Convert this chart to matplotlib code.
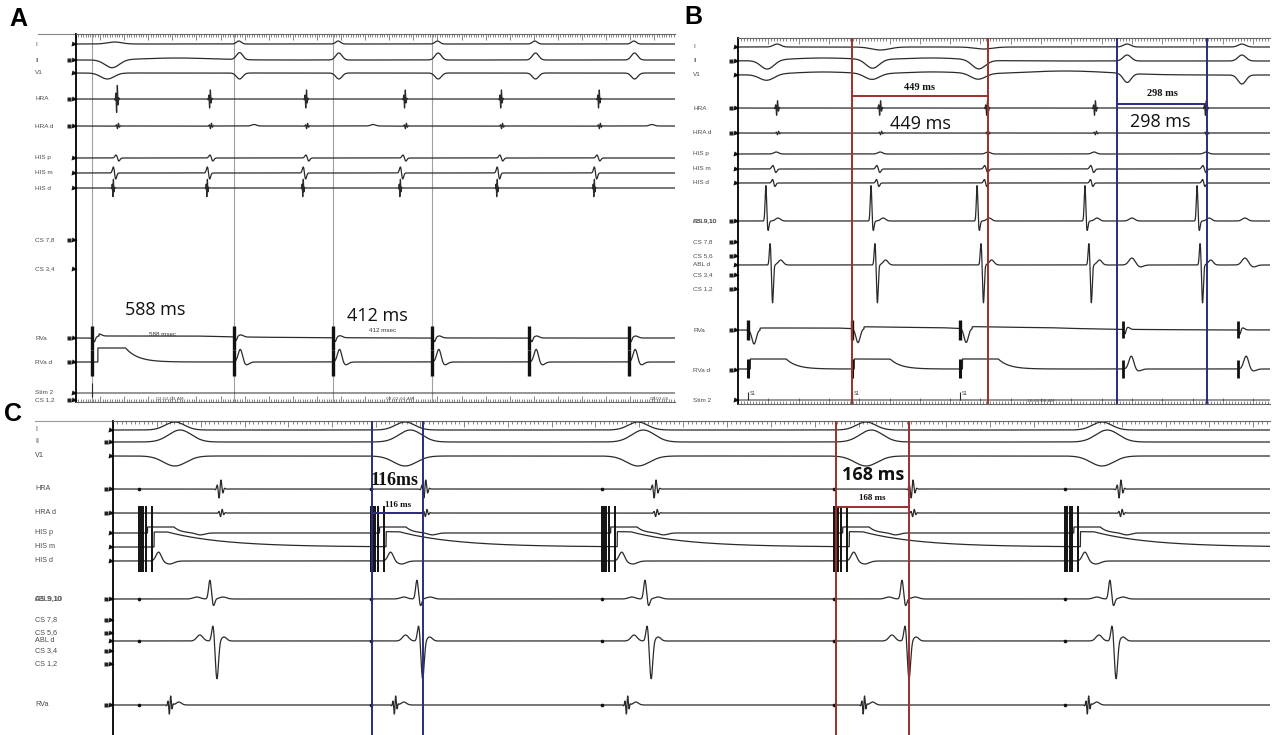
import numpy as np
import matplotlib.pyplot as plt
from matplotlib.ticker import MultipleLocator

W, H = 1278, 735
INK = "#2a2a2a"
LABEL_INK = "#4a4a4a"
RED = "#9b3030"
BLUE = "#2c2c7c"
GRAY = "#a0a0a0"

# ---------------- panel A (times in ms) ----------------
A_LABELS = ["I", "II", "V1", "HRA", "HRA d", "HIS p", "HIS m", "HIS d",
            "CS 7,8", "CS 3,4", "RVa", "RVa d", "Stim 2", "CS 1,2"]
A_BOXED = ["II", "HRA", "HRA d", "CS 7,8", "RVa", "RVa d", "CS 1,2"]
A_STIM = [66, 654, 1066, 1478, 1882, 2293]
A_HRA = [170, 556, 955, 1365, 1764, 2170]
A_HIS = [154, 544, 942, 1345, 1747, 2150]
A_HRAD_EXTRA = [739, 1233, 2390]
A_MARKED = [66, 654, 1066, 1478]
A_INTERVALS = [588, 412]

# ---------------- panel B ----------------
B_LABELS = ["I", "II", "V1", "HRA", "HRA d", "HIS p", "HIS m", "HIS d",
            "ABL9,10", "CS 7,8", "CS 5,6", "ABL d", "CS 3,4", "CS 1,2",
            "RVa", "RVa d", "Stim 2"]
B_BOXED = ["II", "HRA", "HRA d", "ABL9,10", "CS 7,8", "CS 5,6", "CS 3,4",
           "CS 1,2", "RVa", "RVa d"]
B_PACE = [33, 376, 733]
B_RV = [1271, 1650]
B_HRA = [129, 469, 822, 1178, 1544]
B_HIS = [116, 459, 815, 1165, 1535]
B_ABL = [92, 439, 789, 1145, 1515]
B_ABLD = [106, 452, 802, 1158, 1525]
B_FAR = [1300, 1673]
B_RED = [376, 825]
B_BLUE = [1251, 1549]

# ---------------- panel C ----------------
C_LABELS = ["I", "II", "V1", "HRA", "HRA d", "HIS p", "HIS m", "HIS d",
            "ABL9,10", "CS 7,8", "CS 5,6", "ABL d", "CS 3,4", "CS 1,2", "RVa"]
C_BOXED = ["II", "HRA", "HRA d", "ABL9,10", "CS 7,8", "CS 5,6", "CS 3,4",
           "CS 1,2", "RVa"]
C_PACE = [59, 588, 1115, 1644, 2171]
C_SURF = [141, 666, 1197, 1717, 2255]
C_HRA = [244, 711, 1236, 1822, 2296]
C_ABL = [221, 693, 1213, 1799, 2273]
C_ABLD = [228, 697, 1218, 1806, 2278]
C_RV = [130, 643, 1172, 1712, 2223]
C_BLUE = [591, 707]
C_RED = [1648, 1816]


def gauss(t, t0, w):
    return np.exp(-0.5 * ((t - t0) / w) ** 2)


def biph(t, t0, w):
    x = (t - t0) / w
    return -x * np.exp(0.5 - 0.5 * x * x)


def burst(t, t0, w):
    x = (t - t0) / w
    return np.sin(1.5 * np.pi * x) * np.exp(-x * x)


def hold(t, t0, dur, tau):
    on = ((t >= t0) & (t < t0 + dur)).astype(float)
    after = np.where(t >= t0 + dur, np.exp(-np.clip(t - t0 - dur, 0, None) / tau), 0.0)
    return on + after


def make_panel(fig, box, scale):
    # box in picture pixels: left, top, right, bottom; x in ms, y in pixel rows
    l, t, r, b = box
    ax = fig.add_axes([l / W, 1 - b / H, (r - l) / W, (b - t) / H])
    ax.set_xlim(0, (r - l) * scale)
    ax.set_ylim(b, t)
    ax.set_facecolor("none")
    ax.xaxis.set_major_locator(MultipleLocator(100))
    ax.xaxis.set_minor_locator(MultipleLocator(10))
    ax.set_yticks([])
    ax.tick_params(axis="x", which="both", top=True, direction="in",
                   labelbottom=False, labeltop=False, color="#555555", width=0.5)
    ax.tick_params(axis="x", which="major", length=4)
    ax.tick_params(axis="x", which="minor", length=2)
    ax.spines["right"].set_visible(False)
    ax.spines["left"].set_linewidth(1.3)
    ax.spines["top"].set_color("#666666")
    ax.spines["bottom"].set_color("#666666")
    return ax


def channel_labels(ax, labels, rows, boxed, left, scale, label_px, size=4.6):
    x_lab = (label_px - left) * scale
    for lab, y in zip(labels, rows):
        ax.text(x_lab, y, lab, fontsize=size, color=LABEL_INK, va="center",
                ha="left", family="Liberation Sans", clip_on=False)
        ax.plot([-2.5 * scale], [y], marker=">", ms=3.6, color="#111111",
                clip_on=False, mec="none")
        if lab in boxed:
            ax.plot([-7 * scale], [y], marker="s", ms=3.2, color="#222222",
                    clip_on=False, mec="none")


def draw(ax, t, row, sig, lw=0.9):
    ax.plot(t, row - sig, color=INK, lw=lw, solid_joinstyle="round")


fig = plt.figure(figsize=(W / 100, H / 100), dpi=100)
fig.patch.set_facecolor("white")

# ======================= A =======================
A_BOX = (76, 34, 675, 402)
A_SCALE = 4.15
A_ROWS = [44, 60, 73, 99, 126, 158, 173, 188, 240, 269, 338, 362, 393, 400]
axA = make_panel(fig, A_BOX, A_SCALE)
tA = np.arange(0, (A_BOX[2] - A_BOX[0]) * A_SCALE, 0.5)
rA = dict(zip(A_LABELS, A_ROWS))

for s in A_MARKED:
    axA.axvline(s, color=GRAY, lw=0.8, zorder=0)

sig = 2 * gauss(tA, 160, 30)
for s in A_STIM[1:]:
    sig += 3 * gauss(tA, s + 22, 10)
draw(axA, tA, rA["I"], sig)

sig = -8 * gauss(tA, 150, 30) + 2 * gauss(tA, 420, 140)
for s in A_STIM[1:]:
    sig += 7 * gauss(tA, s + 25, 13)
draw(axA, tA, rA["II"], sig)

sig = -6 * gauss(tA, 130, 28)
for s in A_STIM[1:]:
    sig -= 6 * gauss(tA, s + 25, 13)
draw(axA, tA, rA["V1"], sig)

sig = np.zeros_like(tA)
for i, a in enumerate(A_HRA):
    sig += (15 if i == 0 else 10) * burst(tA, a, 5)
draw(axA, tA, rA["HRA"], sig)

sig = np.zeros_like(tA)
for a in A_HRA:
    sig += 3 * burst(tA, a + 4, 7)
for a in A_HRAD_EXTRA:
    sig += 1.5 * gauss(tA, a, 10)
draw(axA, tA, rA["HRA d"], sig)

sig = np.zeros_like(tA)
for h in A_HIS:
    sig += 3 * biph(tA, h + 18, 6)
draw(axA, tA, rA["HIS p"], sig)

sig = np.zeros_like(tA)
for h in A_HIS:
    sig += 6 * biph(tA, h + 6, 5)
draw(axA, tA, rA["HIS m"], sig)

sig = np.zeros_like(tA)
for h in A_HIS:
    sig += 10 * burst(tA, h, 4)
draw(axA, tA, rA["HIS d"], sig)

sig = 2 * hold(tA, A_STIM[0] + 30, 400, 300)
for s in A_STIM:
    sig += -4 * gauss(tA, s + 10, 4) + 2 * gauss(tA, s + 30, 10)
draw(axA, tA, rA["RVa"], sig)
axA.vlines(A_STIM, rA["RVa"] - 12, rA["RVa"] + 12, color="#111111", lw=2.4)

sig = 14 * hold(tA, A_STIM[0] + 25, 115, 50)
for s in A_STIM[1:]:
    sig += 13 * gauss(tA, s + 28, 9) - 3 * gauss(tA, s + 52, 12)
draw(axA, tA, rA["RVa d"], sig)
axA.vlines(A_STIM, rA["RVa d"] - 12, rA["RVa d"] + 14, color="#111111", lw=2.4)

draw(axA, tA, rA["Stim 2"], np.zeros_like(tA), lw=0.7)
axA.vlines(A_STIM[0], rA["Stim 2"] - 10, rA["Stim 2"] + 4, color=INK, lw=0.8)

channel_labels(axA, A_LABELS, A_ROWS, A_BOXED, A_BOX[0], A_SCALE, 35)
axA.plot([(38 - 76) * A_SCALE, 0], [A_BOX[1]] * 2, color="#888888", lw=0.8, clip_on=False)

for (s0, s1), iv, ybig, ysmall in zip([(A_STIM[0], A_STIM[1]), (A_STIM[2], A_STIM[3])],
                                      A_INTERVALS, [310, 316], [335, 331]):
    xm = s0 + 0.45 * (s1 - s0)
    axA.text(xm, ybig, f"{iv} ms", fontsize=13, family="Open Sans", ha="center",
             va="center", color="#111111")
    axA.text(xm + 0.05 * (s1 - s0), ysmall, f"{iv} msec", fontsize=4.5,
             family="Liberation Sans", ha="center", va="center", color="#333333")

for x, s in [(170, "02:02:03 AM"), (400, "02:02:04 AM"), (660, "02:02:05")]:
    axA.text((x - 76) * A_SCALE, 398.5, s, fontsize=3.2, color="#555555",
             ha="center", va="center", clip_on=False)

# ======================= B =======================
B_BOX = (738, 38, 1270, 404)
B_SCALE = 3.3
B_ROWS = [47, 61, 75, 108, 133, 154, 169, 183, 221, 242, 256, 265, 275, 289,
          330, 370, 400]
axB = make_panel(fig, B_BOX, B_SCALE)
tB = np.arange(0, (B_BOX[2] - B_BOX[0]) * B_SCALE, 0.5)
rB = dict(zip(B_LABELS, B_ROWS))

for x in B_RED:
    axB.axvline(x, color=RED, lw=1.4, zorder=3)
for x in B_BLUE:
    axB.axvline(x, color=BLUE, lw=1.4, zorder=3)

sig = 3 * gauss(tB, 129, 12) - 3 * gauss(tB, 470, 30) - 2 * gauss(tB, 810, 30)
for r in B_RV:
    sig += 3 * gauss(tB, r + 13, 12)
draw(axB, tB, rB["I"], sig)

sig = 3 * gauss(tB, 280, 120) + 3 * gauss(tB, 640, 110)
for a in B_ABL[:3]:
    sig -= 9 * gauss(tB, a + 5, 22)
for r in B_RV:
    sig += 6 * gauss(tB, r + 13, 13)
draw(axB, tB, rB["II"], sig)

sig = 3 * gauss(tB, 280, 110) + 3 * gauss(tB, 640, 110) + 4 * gauss(tB, 1080, 150)
for a in B_ABL[:3]:
    sig -= 6 * gauss(tB, a + 3, 24)
for r in B_RV:
    sig -= 9 * gauss(tB, r + 13, 13)
draw(axB, tB, rB["V1"], sig)

sig = np.zeros_like(tB)
for a in B_HRA:
    sig += 8 * burst(tB, a, 5)
draw(axB, tB, rB["HRA"], sig)

sig = np.zeros_like(tB)
for a in B_HRA:
    sig += 2 * burst(tB, a + 3, 6)
draw(axB, tB, rB["HRA d"], sig)

sig = np.zeros_like(tB)
for h in B_HIS:
    sig += 2 * gauss(tB, h + 10, 8)
draw(axB, tB, rB["HIS p"], sig)

sig = np.zeros_like(tB)
for h in B_HIS:
    sig += 3.5 * biph(tB, h + 4, 5)
draw(axB, tB, rB["HIS m"], sig)

sig = np.zeros_like(tB)
for h in B_HIS:
    sig += 3.5 * biph(tB, h + 2, 4)
draw(axB, tB, rB["HIS d"], sig)

sig = np.zeros_like(tB)
for a in B_ABL:
    sig += 36 * gauss(tB, a, 2.5) - 10 * gauss(tB, a + 7, 3) + 3 * gauss(tB, a + 40, 8)
for f in B_FAR:
    sig += 3 * gauss(tB, f, 9)
draw(axB, tB, rB["ABL9,10"], sig)

sig = np.zeros_like(tB)
for a in B_ABLD:
    sig += 22 * gauss(tB, a, 2.6) - 38 * gauss(tB, a + 8, 2.8) + 5 * gauss(tB, a + 35, 8)
for f in B_FAR:
    sig += 7 * gauss(tB, f, 10) - 2 * gauss(tB, f + 28, 10)
draw(axB, tB, rB["ABL d"], sig)

sig = np.zeros_like(tB)
for p in B_PACE:
    sig += -14 * gauss(tB, p + 20, 7) + 2 * hold(tB, p + 40, 250, 200)
for r in B_RV:
    sig += -5 * gauss(tB, r + 6, 3) + 2 * gauss(tB, r + 16, 6)
draw(axB, tB, rB["RVa"], sig)
axB.vlines(B_PACE, rB["RVa"] - 10, rB["RVa"] + 10, color="#111111", lw=2.4)
axB.vlines(B_RV, rB["RVa"] - 9, rB["RVa"] + 8, color="#111111", lw=2.0)

sig = np.zeros_like(tB)
for p in B_PACE:
    sig += 10 * hold(tB, p + 8, 118, 35)
for r in B_RV:
    sig += 13 * gauss(tB, r + 27, 8) - 2 * gauss(tB, r + 50, 10)
draw(axB, tB, rB["RVa d"] - 1, sig)
axB.vlines(B_PACE, rB["RVa d"] - 11, rB["RVa d"] + 8, color="#111111", lw=2.2)
axB.vlines(B_RV, rB["RVa d"] - 10, rB["RVa d"] + 8, color="#111111", lw=2.0)

draw(axB, tB, rB["Stim 2"], np.zeros_like(tB), lw=0.7)
axB.vlines(B_PACE, rB["Stim 2"] - 8, rB["Stim 2"], color=INK, lw=0.8)
for p in B_PACE:
    axB.text(p + 4, rB["Stim 2"] - 5, "S1", fontsize=3.5, color="#444444")
axB.text(1000, rB["Stim 2"] + 1.5, "10:02:08 AM", fontsize=3.2, color="#555555",
         ha="center", va="center")

channel_labels(axB, B_LABELS, B_ROWS, B_BOXED, B_BOX[0], B_SCALE, 693)
axB.text((693 - 738) * B_SCALE, rB["ABL9,10"], "CS 9,10", fontsize=4.6,
         color=LABEL_INK, va="center", family="Liberation Sans", clip_on=False)

for (x0, x1), col, yl, ysmall, ybig, xbig in [(B_RED, RED, 96, 88, 124, 0.5),
                                              (B_BLUE, BLUE, 104, 94, 122, 0.48)]:
    axB.plot([x0, x1], [yl, yl], color=col, lw=1.4)
    iv = round(x1 - x0)
    axB.text((x0 + x1) / 2, ysmall, f"{iv} ms", fontsize=7.5, family="Liberation Serif",
             weight="bold", ha="center", va="center", color="#111111")
    axB.text(x0 + xbig * (x1 - x0), ybig, f"{iv} ms", fontsize=13, family="Open Sans",
             ha="center", va="center", color="#111111")

# ======================= C =======================
C_BOX = (113, 421, 1270, 735)
C_SCALE = 2.28
C_ROWS = [430, 442, 456, 489, 513, 533, 547, 561, 599, 620, 633, 641, 651, 664, 705]
axC = make_panel(fig, C_BOX, C_SCALE)
axC.spines["bottom"].set_visible(False)
axC.tick_params(axis="x", which="both", bottom=False)
tC = np.arange(0, (C_BOX[2] - C_BOX[0]) * C_SCALE, 0.5)
rC = dict(zip(C_LABELS, C_ROWS))

for x in C_BLUE:
    axC.axvline(x, color=BLUE, lw=1.4, zorder=3)
for x in C_RED:
    axC.axvline(x, color=RED, lw=1.4, zorder=3)

sig = np.zeros_like(tC)
for s in C_SURF:
    sig += 8 * gauss(tC, s, 22)
draw(axC, tC, rC["I"], sig)

sig = np.zeros_like(tC)
for s in C_SURF:
    sig += 12 * gauss(tC, s + 12, 26)
draw(axC, tC, rC["II"], sig)

sig = np.zeros_like(tC)
for s in C_SURF:
    sig -= 10 * gauss(tC, s, 26)
draw(axC, tC, rC["V1"], sig)

sig = np.zeros_like(tC)
for a in C_HRA:
    sig += 10 * burst(tC, a, 7)
draw(axC, tC, rC["HRA"], sig)

sig = np.zeros_like(tC)
for a in C_HRA:
    sig += 4 * burst(tC, a + 3, 6)
draw(axC, tC, rC["HRA d"], sig)

sig = np.zeros_like(tC)
for p in C_PACE:
    sig += 6 * hold(tC, p + 20, 60, 15) - 2 * gauss(tC, p + 140, 10)
draw(axC, tC, rC["HIS p"], sig)

sig = np.zeros_like(tC)
for p in C_PACE:
    sig += 15 * hold(tC, p + 35, 30, 130)
draw(axC, tC, rC["HIS m"], sig)

sig = np.zeros_like(tC)
for p in C_PACE:
    sig += 9 * gauss(tC, p + 45, 6) - 3 * gauss(tC, p + 70, 10)
draw(axC, tC, rC["HIS d"], sig)
for p in C_PACE:
    axC.vlines([p, p + 5, p + 10, p + 16, p + 30], 506, 572, color="#111111", lw=1.4)

sig = np.zeros_like(tC)
for a in C_ABL:
    sig += 2 * gauss(tC, a - 30, 8) + 19 * gauss(tC, a, 3) - 7 * gauss(tC, a + 8, 3) \
        + 2 * gauss(tC, a + 30, 8)
draw(axC, tC, rC["ABL9,10"], sig)

sig = np.zeros_like(tC)
for a in C_ABLD:
    sig += 6 * gauss(tC, a - 30, 7) + 16 * gauss(tC, a, 3) - 38 * gauss(tC, a + 9, 3.5) \
        + 4 * gauss(tC, a + 25, 6)
draw(axC, tC, rC["ABL d"], sig)

sig = np.zeros_like(tC)
for r in C_RV:
    sig += 10 * burst(tC, r, 5) + 3 * gauss(tC, r + 20, 6)
draw(axC, tC, rC["RVa"], sig)

for lab in ["HRA", "ABL9,10", "ABL d", "RVa"]:
    axC.plot(C_PACE, [rC[lab]] * len(C_PACE), ls="none", marker="o", ms=1.6,
             color="#111111")

channel_labels(axC, C_LABELS, C_ROWS, C_BOXED, C_BOX[0], C_SCALE, 35, size=5.2)
axC.text((35 - 113) * C_SCALE, rC["ABL9,10"], "CS 9,10", fontsize=5.2,
         color=LABEL_INK, va="center", family="Liberation Sans", clip_on=False)
axC.plot([(35 - 113) * C_SCALE, 0], [C_BOX[1]] * 2, color="#999999", lw=0.8, clip_on=False)

axC.plot(C_BLUE, [513, 513], color=BLUE, lw=1.4)
axC.plot(C_RED, [507, 507], color=RED, lw=1.4)
iv_blue = round(C_BLUE[1] - C_BLUE[0])
iv_red = round(C_RED[1] - C_RED[0])
axC.text(sum(C_BLUE) / 2, 505, f"{iv_blue} ms", fontsize=6.5, family="Liberation Serif",
         weight="bold", ha="center", va="center", color="#111111")
axC.text(sum(C_BLUE) / 2 - 8, 481, f"{iv_blue}ms", fontsize=13, family="Liberation Serif",
         weight="bold", ha="center", va="center", color="#111111")
axC.text(sum(C_RED) / 2, 498, f"{iv_red} ms", fontsize=6.5, family="Liberation Serif",
         weight="bold", ha="center", va="center", color="#111111")
axC.text(sum(C_RED) / 2, 475, f"{iv_red} ms", fontsize=13, family="Open Sans",
         weight="bold", ha="center", va="center", color="#111111")

# panel letters
for x, y, s in [(18, 19, "A"), (693, 17, "B"), (13, 414, "C")]:
    fig.text(x / W, 1 - y / H, s, fontsize=18, weight="bold", family="Liberation Sans",
             ha="center", va="center")

fig.savefig("out.png", dpi=100)
